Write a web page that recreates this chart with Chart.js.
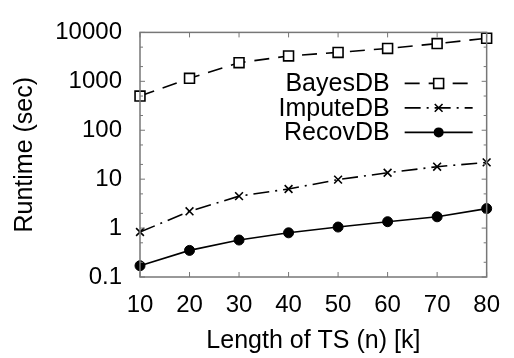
<!DOCTYPE html>
<html>
<head>
<meta charset="utf-8">
<script src="https://cdn.jsdelivr.net/npm/chart.js@4"></script>
<style>
  html, body { margin: 0; padding: 0; background: #fff; }
  .chart-container { position: relative; width: 514px; height: 358px; }
</style>
</head>
<body>
<div class="chart-container">
  <canvas id="myChart"></canvas>
</div>
<script>
// values
const lengths = [10, 20, 30, 40, 50, 60, 70, 80];
const bayesDB = [500, 1150, 2400, 3300, 3900, 4700, 5900, 7600];
const imputeDB = [0.83, 2.2, 4.5, 6.3, 9.8, 13.5, 18, 22];
const recovDB = [0.17, 0.35, 0.57, 0.8, 1.05, 1.35, 1.7, 2.5];
const yTicks = [0.1, 1, 10, 100, 1000, 10000];
const yMinorSteps = [2, 5];

const font = "'Liberation Sans', Arial, Helvetica, sans-serif";
const axisGrey = '#777';

const toPoints = (vals) => lengths.map((x, i) => ({x: x, y: vals[i]}));

function drawMarker(ctx, style, x, y, r) {
    ctx.save();
    ctx.beginPath();
    if (style === 'rect') {
        const s = Math.SQRT1_2 * r;
        ctx.fillStyle = '#fff';
        ctx.rect(x - s, y - s, 2 * s, 2 * s);
        ctx.fill();
        ctx.stroke();
    } else if (style === 'crossRot') {
        const s = Math.SQRT1_2 * r;
        ctx.moveTo(x - s, y - s); ctx.lineTo(x + s, y + s);
        ctx.moveTo(x + s, y - s); ctx.lineTo(x - s, y + s);
        ctx.stroke();
    } else {
        ctx.fillStyle = '#000';
        ctx.arc(x, y, r, 0, Math.PI * 2);
        ctx.fill();
    }
    ctx.restore();
}

// gnuplot style box with inward ticks and the key inside the plot
const frame = {
    id: 'frame',
    afterDatasetsDraw(chart) {
        const ctx = chart.ctx;
        const a = chart.chartArea;
        const xs = chart.scales.x, ys = chart.scales.y;
        ctx.save();
        ctx.strokeStyle = axisGrey;
        ctx.lineWidth = 1.5;
        ctx.strokeRect(a.left, a.top, a.right - a.left, a.bottom - a.top);
        ctx.lineWidth = 1;
        ctx.beginPath();
        lengths.forEach((v) => {
            const px = xs.getPixelForValue(v);
            ctx.moveTo(px, a.bottom); ctx.lineTo(px, a.bottom - 5);
            ctx.moveTo(px, a.top); ctx.lineTo(px, a.top + 5);
        });
        yTicks.forEach((v, i) => {
            const py = ys.getPixelForValue(v);
            ctx.moveTo(a.left, py); ctx.lineTo(a.left + 5, py);
            ctx.moveTo(a.right, py); ctx.lineTo(a.right - 5, py);
            if (i < yTicks.length - 1) {
                yMinorSteps.forEach((m) => {
                    const pm = ys.getPixelForValue(v * m);
                    ctx.moveTo(a.left, pm); ctx.lineTo(a.left + 3, pm);
                    ctx.moveTo(a.right, pm); ctx.lineTo(a.right - 3, pm);
                });
            }
        });
        ctx.stroke();

        // key
        ctx.font = '25px ' + font;
        ctx.fillStyle = '#000';
        ctx.textAlign = 'right';
        ctx.textBaseline = 'middle';
        const textRight = a.right - 97;
        const lineL = a.right - 82, lineR = a.right - 14;
        chart.data.datasets.forEach((ds, i) => {
            const y = a.top + 51 + i * 24.5;
            ctx.fillText(ds.label, textRight, y + 1);
            ctx.save();
            ctx.strokeStyle = '#000';
            ctx.lineWidth = ds.borderWidth;
            ctx.setLineDash(ds.borderDash || []);
            ctx.beginPath();
            ctx.moveTo(lineL, y); ctx.lineTo(lineR, y);
            ctx.stroke();
            ctx.setLineDash([]);
            ctx.lineWidth = ds.pointBorderWidth;
            drawMarker(ctx, ds.pointStyle, (lineL + lineR) / 2, y, ds.pointRadius);
            ctx.restore();
        });
        ctx.restore();
    }
};

const ch = document.getElementById('myChart');
new Chart(ch, {
    type: 'line',
    data: {
        datasets: [{
            label: 'BayesDB',
            data: toPoints(bayesDB),
            borderColor: '#000',
            borderWidth: 1.6,
            borderDash: [15, 9],
            pointStyle: 'rect',
            pointRadius: 7,
            pointBorderWidth: 1.6,
            pointBorderColor: '#000',
            pointBackgroundColor: '#fff',
        }, {
            label: 'ImputeDB',
            data: toPoints(imputeDB),
            borderColor: '#000',
            borderWidth: 1.6,
            borderDash: [16, 6, 2, 6],
            pointStyle: 'crossRot',
            pointRadius: 5.5,
            pointBorderWidth: 1.6,
            pointBorderColor: '#000',
            pointBackgroundColor: '#000',
        }, {
            label: 'RecovDB',
            data: toPoints(recovDB),
            borderColor: '#000',
            borderWidth: 1.6,
            borderDash: [],
            pointStyle: 'circle',
            pointRadius: 5,
            pointBorderWidth: 1,
            pointBorderColor: '#000',
            pointBackgroundColor: '#000',
        }]
    },
    options: {
        responsive: true,
        maintainAspectRatio: false,
        animation: false,
        clip: false,
        layout: {padding: {top: 17, right: 22, left: 0, bottom: 0}},
        plugins: {legend: {display: false}, tooltip: {enabled: false}},
        scales: {
            x: {
                type: 'linear',
                min: 10,
                max: 80,
                afterFit: (s) => { s.height = 81; },
                afterBuildTicks: (s) => { s.ticks = lengths.map((v) => ({value: v})); },
                grid: {display: false, drawTicks: false},
                border: {display: false},
                ticks: {color: '#000', padding: 14, maxRotation: 0, font: {family: font, size: 24}},
                title: {display: true, text: 'Length of TS (n) [k]', color: '#000',
                    padding: {top: 0, bottom: 2}, font: {family: font, size: 25}}
            },
            y: {
                type: 'logarithmic',
                min: 0.1,
                max: 10000,
                afterFit: (s) => { s.width = 140; },
                afterBuildTicks: (s) => { s.ticks = yTicks.map((v) => ({value: v})); },
                grid: {display: false, drawTicks: false},
                border: {display: false},
                ticks: {color: '#000', padding: 18, font: {family: font, size: 24},
                    callback: (v) => String(v)},
                title: {display: true, text: 'Runtime (sec)', color: '#000',
                    padding: {top: 10, bottom: 0}, font: {family: font, size: 25}}
            }
        }
    },
    plugins: [frame]
});
</script>
</body>
</html>
